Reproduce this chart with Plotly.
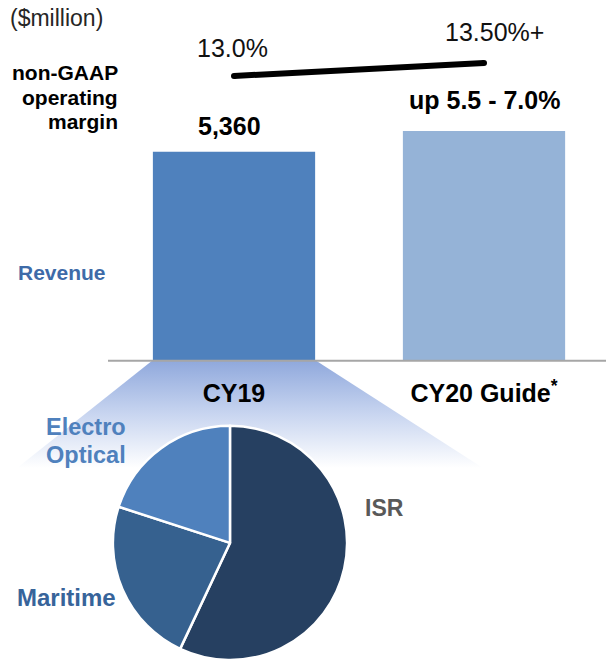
import plotly.graph_objects as go

W, H = 606, 660
FONT = "Arial, Liberation Sans, sans-serif"

# ---------------- data ----------------
categories = ["CY19", "CY20 Guide<sup>*</sup>"]
revenue = [5360, 5695]
revenue_labels = ["5,360", "up 5.5 - 7.0%"]
margin = [13.0, 13.5]
margin_labels = ["13.0%", "13.50%+"]

segments = ["ISR", "Maritime", "Electro Optical"]
segment_share = [57, 23, 20]

bar_colors = ["#4F81BD", "#95B3D7"]
pie_colors = ["#264061", "#36618F", "#4F81BD"]


def px(x):
    return x / W


def py(y):
    return 1 - y / H


fig = go.Figure()

# gradient "zoom" trapezoid from the CY19 bar down to the pie
trap_x = [153, 315, 483, 17, 153]
trap_y = [H - 360, H - 360, H - 468, H - 468, H - 360]
fig.add_trace(go.Scatter(
    x=trap_x, y=trap_y, xaxis="x", yaxis="y",
    mode="lines", line=dict(width=0), fill="toself",
    fillgradient=dict(type="vertical",
                      colorscale=[[0, "rgba(255,255,255,1)"], [0.5, "rgb(200,213,240)"],
                                  [1, "rgb(143,168,220)"]],
                      start=H - 468, stop=H - 360),
    hoverinfo="skip", showlegend=False,
))

# revenue bars
fig.add_trace(go.Bar(
    x=categories, y=revenue, xaxis="x2", yaxis="y2",
    marker=dict(color=bar_colors, line=dict(width=0)),
    width=0.649, hoverinfo="skip", showlegend=False,
))

# margin line (round ends via markers)
fig.add_trace(go.Scatter(
    x=categories, y=margin, xaxis="x2", yaxis="y3",
    mode="lines+markers", line=dict(color="black", width=6),
    marker=dict(color="black", size=6, line=dict(width=0)),
    hoverinfo="skip", showlegend=False,
))

# segment pie
fig.add_trace(go.Pie(
    labels=segments, values=segment_share,
    marker=dict(colors=pie_colors, line=dict(color="white", width=2.5)),
    sort=False, direction="clockwise", rotation=0,
    textinfo="none", hoverinfo="skip", showlegend=False,
    domain=dict(x=[0.1856, 0.5734], y=[0, 0.3548]),
))

annotations = []
# revenue value labels
rev_shifts = [(-5, 26), (0, 31)]
for c, v, t, (xs, ys) in zip(categories, revenue, revenue_labels, rev_shifts):
    annotations.append(dict(x=c, y=v, xref="x2", yref="y2", text=t, showarrow=False,
                            xshift=xs, yshift=ys, yanchor="middle",
                            font=dict(family=FONT, size=25, color="black", weight="bold")))
# margin labels
mar_shifts = [(-2, 28), (10, 31)]
for c, v, t, (xs, ys) in zip(categories, margin, margin_labels, mar_shifts):
    annotations.append(dict(x=c, y=v, xref="x2", yref="y3", text=t, showarrow=False,
                            xshift=xs, yshift=ys, yanchor="middle",
                            font=dict(family=FONT, size=25, color="#111111")))

# left side texts
annotations.append(dict(x=px(8), y=py(18), xref="paper", yref="paper", text="($million)",
                        showarrow=False, xanchor="left", yanchor="middle",
                        font=dict(family=FONT, size=23, color="#262626")))
for txt, yy in zip(["non-GAAP", "operating", "margin"], [72, 97, 122]):
    annotations.append(dict(x=px(120), y=py(yy), xref="paper", yref="paper", text=txt,
                            showarrow=False, xanchor="right", yanchor="middle",
                            font=dict(family=FONT, size=21, color="black", weight="bold")))
annotations.append(dict(x=px(16), y=py(272), xref="paper", yref="paper", text="Revenue",
                        showarrow=False, xanchor="left", yanchor="middle",
                        font=dict(family=FONT, size=21, color="#3E6BA8", weight="bold")))

# pie labels
for txt, xx, yy in zip(["Electro", "Optical"], [86, 86], [427, 455]):
    annotations.append(dict(x=px(xx), y=py(yy), xref="paper", yref="paper", text=txt,
                            showarrow=False, xanchor="center", yanchor="middle",
                            font=dict(family=FONT, size=23.5, color="#4F81BD", weight="bold")))
annotations.append(dict(x=px(66), y=py(597), xref="paper", yref="paper", text="Maritime",
                        showarrow=False, xanchor="center", yanchor="middle",
                        font=dict(family=FONT, size=24, color="#37649A", weight="bold")))
annotations.append(dict(x=px(384), y=py(508), xref="paper", yref="paper", text="ISR",
                        showarrow=False, xanchor="center", yanchor="middle",
                        font=dict(family=FONT, size=23, color="#595959", weight="bold")))

fig.update_layout(
    width=W, height=H,
    margin=dict(l=0, r=0, t=0, b=0),
    paper_bgcolor="white", plot_bgcolor="rgba(0,0,0,0)",
    showlegend=False,
    xaxis=dict(domain=[0, 1], range=[0, W], visible=False, fixedrange=True),
    yaxis=dict(domain=[0, 1], range=[0, H], visible=False, fixedrange=True),
    xaxis2=dict(domain=[0, 1], anchor="y2", type="category", range=[-0.936, 1.488],
                showgrid=False, showline=False, zeroline=False, ticks="",
                ticklabelstandoff=16,
                tickfont=dict(family=FONT, size=25, color="black", weight="bold")),
    yaxis2=dict(domain=[0.4545, 1], anchor="x2", range=[1989, 7815], visible=False),
    yaxis3=dict(domain=[0.4545, 1], anchor="x2", overlaying="y2", range=[2.077, 15.923],
                visible=False),
    annotations=annotations,
    shapes=[dict(type="line", xref="paper", yref="paper", x0=px(108), x1=1,
                 y0=py(360.7), y1=py(360.7), line=dict(color="#A6A6A6", width=2))],
)

fig.write_html("out.html", config={"displayModeBar": False},
               post_script="document.body.style.margin='0';document.body.style.overflow='hidden';")
